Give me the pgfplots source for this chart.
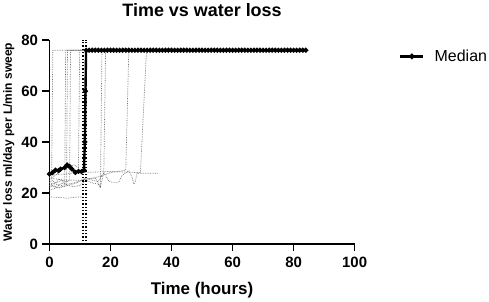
\documentclass[border=0pt]{standalone}
\usepackage{pgfplots}
\pgfplotsset{compat=1.18}
\usepackage{fontspec}
\setmainfont{Liberation Sans}
\begin{document}
\begin{tikzpicture}
\begin{axis}[
  scale only axis, width=305bp, height=204bp,
  xmin=0, xmax=100, ymin=0, ymax=80,
  xtick={0,20,...,100}, ytick={0,20,...,80},
  axis lines=left, axis line style={line width=1.6pt, -},
  tick align=outside, major tick length=7bp,
  tick style={line width=1.4pt, black},
  /pgf/number format/assume math mode=true,
  ticklabel style={font=\fontsize{15}{15}\selectfont\bfseries},
  yticklabel style={xshift=-1bp},
  xticklabel style={yshift=-2bp},
  title={Time vs water loss},
  title style={font=\fontsize{18}{18}\selectfont\bfseries, yshift=14bp},
  xlabel={Time (hours)},
  xlabel style={font=\fontsize{17}{17}\selectfont\bfseries, yshift=-8bp},
  ylabel={Water loss ml/day per L/min sweep},
  ylabel style={font=\fontsize{12}{12}\selectfont\bfseries, yshift=0bp},
  legend style={at={(1.145,0.92)}, anchor=west, draw=none, fill=none,
    font=\fontsize{16}{16}\selectfont, inner sep=0pt,
    /tikz/every odd column/.append style={column sep=8bp}},
  legend image code/.code={\draw[black, line width=2.6pt] (0cm,0cm) -- (23bp,0cm); \fill[black] (11.5bp,0cm) circle (1.5pt);},
  legend cell align=left,
  clip=false,
  ind/.style={black!55, densely dotted, line width=0.7pt, forget plot},
]
% individual traces
\addplot[ind] coordinates {(0,26)(0.7,26)(1.1,76)(11,76)};
\addplot[ind] coordinates {(0,22)(1,23)(2,22.5)(3,23)(4,24)(5,23.5)(5.3,76)(11,76)};
\addplot[ind] coordinates {(0,24)(1,25)(2,24)(3,25.5)(4,25)(5,24)(5.6,23)(5.9,76)(11,76)};
\addplot[ind] coordinates {(0,23)(2,24)(4,25)(6,24.5)(6.6,25)(6.9,76)(11,76)};
\addplot[ind] coordinates {(0,25)(2,27)(4,29)(6,30)(8,31)(9.5,30)(9.9,76)(11,76)};
\addplot[ind] coordinates {(0,18.5)(3,18.3)(6,18)(9,18.5)(11,18.5)};
\addplot[ind] coordinates {(0,21)(2,22)(4,22.5)(6,23)(8,22.5)(10,23)(12,25)(14,24)(16,23.5)(16.7,22)(17.2,76)(20,76)};
\addplot[ind] coordinates {(0,23)(3,22)(6,23)(9,24)(12,26)(14,25)(16,24.5)(17.8,28)(18.4,76)(20,76)};
\addplot[ind] coordinates {(0,24)(4,23)(8,24)(12,25.5)(15,26)(16.7,22.4)(17.8,28.1)(19.4,24.8)(20.5,24.2)(22.7,24.2)(23.8,27)(26,28.7)(27.1,26.1)(27.6,23.5)(28,24)(28.7,27.8)(35.8,27.8)};
\addplot[ind] coordinates {(0,26)(5,25)(10,25)(15,26)(20,28)(25,29)(26,76)(28,76)};
\addplot[ind] coordinates {(0,27)(10,28)(20,28.5)(29.8,28)(31.8,76)(35,76)};
% vertical dotted markers
\addplot[black, dotted, line width=1.3pt, forget plot] coordinates {(11,0)(11,80)};
\addplot[black, dotted, line width=1.3pt, forget plot] coordinates {(12,0)(12,80)};
% median
\addplot[black, line width=2.4pt, mark=*, mark size=1.1pt] coordinates {
(0,27.5)(1,28)(2,29)(3,28.8)(3.6,29.4)(5,30)(5.8,31)(6.5,30.5)(7.4,29.4)(8.5,28.1)(9.5,28.5)(10.5,28.4)(11.3,29)(11.6,40)(11.8,60)(12,76)
(13,76)(14,76)(15,76)(16,76)(17,76)(18,76)(19,76)(20,76)(21,76)(22,76)(23,76)(24,76)(25,76)(26,76)(27,76)(28,76)(29,76)(30,76)
(31,76)(32,76)(33,76)(34,76)(35,76)(36,76)(37,76)(38,76)(39,76)(40,76)(41,76)(42,76)(43,76)(44,76)(45,76)(46,76)(47,76)(48,76)
(49,76)(50,76)(51,76)(52,76)(53,76)(54,76)(55,76)(56,76)(57,76)(58,76)(59,76)(60,76)(61,76)(62,76)(63,76)(64,76)(65,76)(66,76)
(67,76)(68,76)(69,76)(70,76)(71,76)(72,76)(73,76)(74,76)(75,76)(76,76)(77,76)(78,76)(79,76)(80,76)(81,76)(82,76)(83,76)(84,76)};
\addlegendentry{Median}
\end{axis}
\end{tikzpicture}
\end{document}
